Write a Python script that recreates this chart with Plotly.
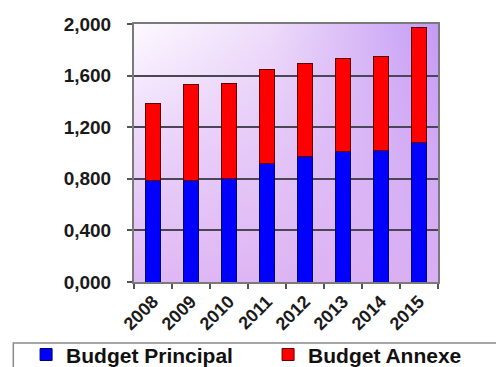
import base64
import plotly.graph_objects as go

years = ["2008", "2009", "2010", "2011", "2012", "2013", "2014", "2015"]
budget_principal = [0.79, 0.79, 0.80, 0.92, 0.97, 1.01, 1.02, 1.08]
budget_annexe = [0.59, 0.74, 0.74, 0.73, 0.72, 0.72, 0.73, 0.89]
y_tickvals = [0, 0.4, 0.8, 1.2, 1.6, 2.0]
y_ticktext = ["0,000", "0,400", "0,800", "1,200", "1,600", "2,000"]

FONT = "Liberation Sans, Arial, sans-serif"

svg = """<svg xmlns='http://www.w3.org/2000/svg' width='300' height='260' viewBox='0 0 100 100' preserveAspectRatio='none'>
<defs>
<linearGradient id='h' x1='0' y1='0' x2='1' y2='0'>
<stop offset='0' stop-color='#fdfaff'/>
<stop offset='0.45' stop-color='#eedcfa'/>
<stop offset='1' stop-color='#c49bf5'/>
</linearGradient>
<linearGradient id='v' x1='0' y1='0' x2='0' y2='1'>
<stop offset='0' stop-color='#dcb4f5' stop-opacity='0'/>
<stop offset='0.5' stop-color='#dcb4f5' stop-opacity='0.55'/>
<stop offset='1' stop-color='#dcb0f2' stop-opacity='0.9'/>
</linearGradient>
</defs>
<rect x='0' y='0' width='100' height='100' fill='url(#h)'/>
<rect x='0' y='0' width='100' height='100' fill='url(#v)'/>
</svg>"""
bg_uri = "data:image/svg+xml;base64," + base64.b64encode(svg.encode()).decode()

fig = go.Figure()
fig.add_trace(go.Bar(
    x=years, y=budget_principal, name="Budget Principal", legend="legend",
    marker=dict(color="#0000ff", line=dict(color="#000060", width=1)),
))
fig.add_trace(go.Bar(
    x=years, y=budget_annexe, name="Budget Annexe", legend="legend2",
    marker=dict(color="#ff0000", line=dict(color="#600000", width=1)),
))

legend_style = dict(orientation="h", y=-0.203, xanchor="left", yanchor="top",
                    font=dict(family=FONT, size=21, color="#111", weight="bold"),
                    bgcolor="rgba(0,0,0,0)", borderwidth=0)

fig.update_layout(
    width=496, height=367,
    margin=dict(l=134, r=58, t=24, b=85, autoexpand=False),
    barmode="stack", bargap=0.58,
    paper_bgcolor="white", plot_bgcolor="rgba(0,0,0,0)",
    font=dict(family=FONT, size=18, color="#1a1a1a", weight="bold"),
    images=[dict(source=bg_uri, xref="paper", yref="paper", x=0, y=1,
                 sizex=1, sizey=1, sizing="stretch", layer="below",
                 xanchor="left", yanchor="top")],
    legend=dict(x=-0.355, **legend_style),
    legend2=dict(x=0.441, **legend_style),
    shapes=[dict(type="rect", xref="paper", yref="paper",
                 x0=-0.397, x1=1.35, y0=-0.236, y1=-0.5,
                 line=dict(color="#8a8a8a", width=1.5), fillcolor="rgba(0,0,0,0)",
                 layer="below")],
    showlegend=True,
)
fig.update_yaxes(
    range=[0, 2.0], tickvals=y_tickvals, ticktext=y_ticktext,
    showgrid=True, gridcolor="#4a4656", gridwidth=1.5,
    showline=True, linecolor="#7a7a7a", linewidth=2, mirror=True,
    ticks="outside", ticklen=5, tickcolor="#555", tickwidth=1.5,
    ticklabelstandoff=12, zeroline=False,
    tickfont=dict(size=19),
)
fig.update_xaxes(
    tickangle=-45, tickson="boundaries", ticks="outside", ticklen=5,
    tickcolor="#555", tickwidth=1.5,
    showline=True, linecolor="#7a7a7a", linewidth=2, mirror=True,
    showgrid=False, tickfont=dict(size=18),
)

fig.write_html("out.html")
